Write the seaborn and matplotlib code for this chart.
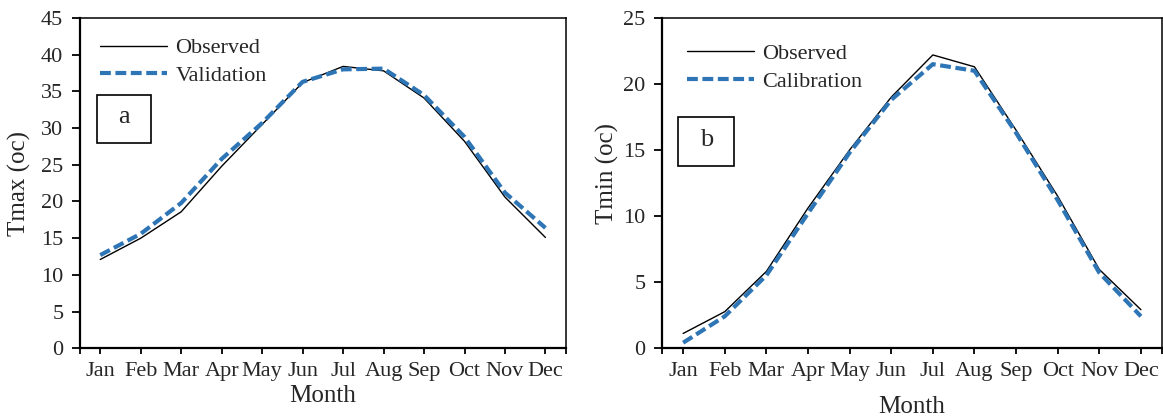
import numpy as np
import pandas as pd
import matplotlib
matplotlib.use("Agg")
import matplotlib.pyplot as plt
import matplotlib.patches as mpatches
import seaborn as sns

months = ["Jan", "Feb", "Mar", "Apr", "May", "Jun", "Jul", "Aug", "Sep", "Oct", "Nov", "Dec"]
tmax_observed = [12.1, 15.0, 18.6, 24.8, 30.5, 36.2, 38.4, 37.8, 34.1, 28.2, 20.6, 15.1]
tmax_validation = [12.7, 15.6, 19.8, 25.8, 30.7, 36.3, 38.0, 38.1, 34.5, 28.8, 21.2, 16.4]
tmin_observed = [1.1, 2.75, 5.8, 10.6, 15.0, 19.0, 22.2, 21.3, 16.5, 11.5, 5.95, 2.9]
tmin_calibration = [0.4, 2.4, 5.5, 10.2, 14.8, 18.8, 21.5, 21.0, 16.3, 11.2, 5.7, 2.4]

sns.set_theme(style="white")
plt.rcParams["font.family"] = ["Liberation Serif", "DejaVu Serif"]

BLUE = "#2E75B6"
TICK_FS = 16
LAB_FS = 18
LEG_FS = 16

fig = plt.figure(figsize=(11.63, 4.18), dpi=100)
ax1 = fig.add_axes([0.0688, 0.1667, 0.4176, 0.7903])
ax2 = fig.add_axes([0.5695, 0.1675, 0.4294, 0.7895])

x = np.arange(len(months))


def draw(ax, obs, sim, sim_name, ylim, ystep, ylabel, letter, leg_anchor,
         box, ylab_coords, xlab_y):
    df = pd.DataFrame({"x": np.concatenate([x, x]),
                       "y": np.concatenate([obs, sim]),
                       "series": ["Observed"] * len(x) + [sim_name] * len(x)})
    sns.lineplot(data=df[df.series == "Observed"], x="x", y="y", ax=ax,
                 color="black", lw=1.0, label="Observed", legend=False)
    sns.lineplot(data=df[df.series == sim_name], x="x", y="y", ax=ax,
                 color=BLUE, lw=3.0, label=sim_name, legend=False)
    ax.lines[1].set_linestyle((0, (2.6, 1.1)))
    ax.set_xlim(-0.5, len(x) - 0.5)
    ax.set_ylim(*ylim)
    ax.set_yticks(np.arange(ylim[0], ylim[1] + 0.01, ystep))
    ax.set_xticks(x)
    ax.set_xticklabels(months)
    ax.set_xticks([-0.5, len(x) - 0.5], minor=True)
    ax.tick_params(axis="x", which="both", direction="out", length=4, width=1.3,
                   color="black", labelsize=TICK_FS, pad=6, bottom=True)
    ax.tick_params(axis="y", direction="out", length=6, width=1.3, color="black",
                   labelsize=TICK_FS, pad=6, left=True)
    for s in ["left", "bottom"]:
        ax.spines[s].set_linewidth(1.6)
        ax.spines[s].set_color("black")
    for s in ["top", "right"]:
        ax.spines[s].set_linewidth(1.1)
        ax.spines[s].set_color("black")
        ax.spines[s].set_visible(True)
    ax.set_xlabel("Month", fontsize=LAB_FS)
    ax.xaxis.set_label_coords(0.5, xlab_y)
    ax.set_ylabel(ylabel, fontsize=LAB_FS)
    ax.yaxis.set_label_coords(*ylab_coords)
    ax.legend(loc="upper left", bbox_to_anchor=leg_anchor, frameon=False,
              fontsize=LEG_FS, handlelength=3.0, handletextpad=0.4,
              labelspacing=0.32, borderpad=0, borderaxespad=0)
    rect = mpatches.Rectangle((box[0], box[1]), box[2], box[3], transform=ax.transAxes,
                              fill=False, edgecolor="black", lw=1.2, zorder=5)
    ax.add_patch(rect)
    ax.text(box[0] + box[2] / 2, box[1] + box[3] / 2 + 0.005, letter, transform=ax.transAxes,
            ha="center", va="center", fontsize=LAB_FS + 1, zorder=6)


draw(ax1, tmax_observed, tmax_validation, "Validation", (0, 45), 5, "Tmax (oc)", "a",
     (0.041, 0.94), (0.034, 0.6216, 0.113, 0.145), (-0.100, 0.5), -0.112)
draw(ax2, tmin_observed, tmin_calibration, "Calibration", (0, 25), 5, "Tmin (oc)", "b",
     (0.0495, 0.922), (0.032, 0.5515, 0.1115, 0.1476), (-0.086, 0.53), -0.145)

fig.savefig("out.png", dpi=100)
